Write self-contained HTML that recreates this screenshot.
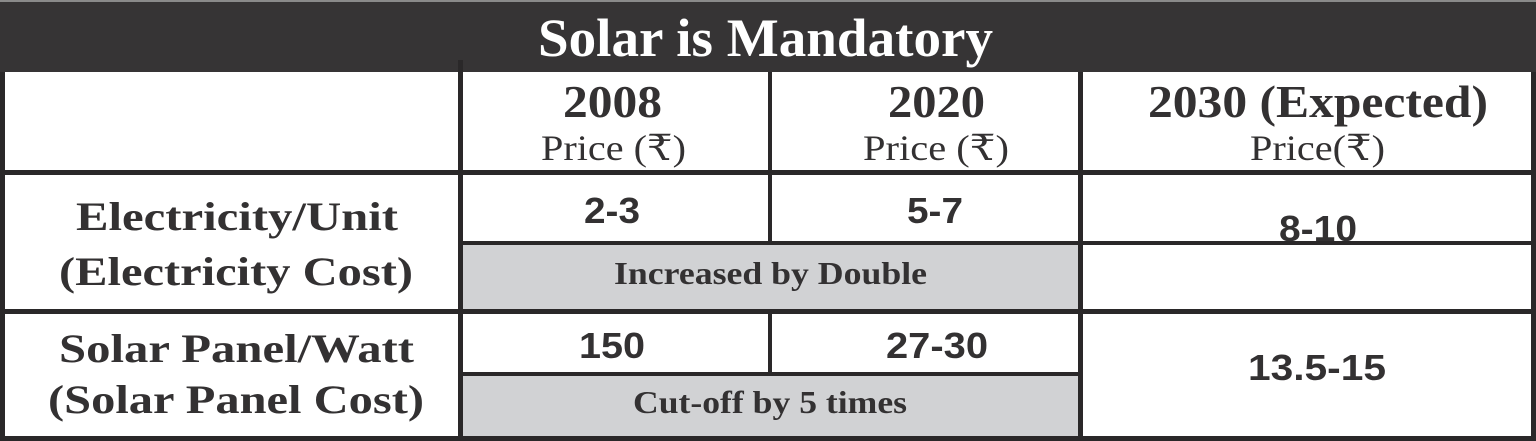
<!DOCTYPE html>
<html><head><meta charset="utf-8"><style>
html,body{margin:0;padding:0;background:#363435;}
svg{display:block}
.serif{font-family:"Liberation Serif","DejaVu Serif",serif;fill:#333132}
.sans{font-family:"Liberation Sans","DejaVu Sans",sans-serif;fill:#333132;font-weight:bold}
</style></head><body>
<svg width="1536" height="441" viewBox="0 0 1536 441">
<rect x="0" y="0" width="1536" height="441" fill="#363435"/>
<rect x="0" y="0" width="1536" height="2" fill="#8a8a8a"/>
<rect x="5" y="72" width="1526" height="364" fill="#ffffff"/>
<rect x="462" y="245" width="617" height="65" fill="#d1d2d4"/>
<rect x="462" y="376" width="617" height="60" fill="#d1d2d4"/>
<text class="serif" x="538" y="56" font-size="54" font-weight="bold" fill="#ffffff" style="fill:#fff" textLength="455" lengthAdjust="spacingAndGlyphs">Solar is Mandatory</text>
<text class="serif" x="563" y="117" font-size="46" font-weight="bold" textLength="99" lengthAdjust="spacingAndGlyphs">2008</text>
<text class="serif" x="541" y="160" font-size="36" textLength="145" lengthAdjust="spacingAndGlyphs">Price (₹)</text>
<text class="serif" x="888" y="117" font-size="46" font-weight="bold" textLength="97" lengthAdjust="spacingAndGlyphs">2020</text>
<text class="serif" x="863" y="160" font-size="36" textLength="146" lengthAdjust="spacingAndGlyphs">Price (₹)</text>
<text class="serif" x="1148" y="117" font-size="46" font-weight="bold" textLength="340" lengthAdjust="spacingAndGlyphs">2030 (Expected)</text>
<text class="serif" x="1250" y="160" font-size="36" textLength="135" lengthAdjust="spacingAndGlyphs">Price(₹)</text>
<text class="serif" x="76" y="230" font-size="40" font-weight="bold" textLength="322" lengthAdjust="spacingAndGlyphs">Electricity/Unit</text>
<text class="serif" x="59" y="285" font-size="40" font-weight="bold" textLength="354" lengthAdjust="spacingAndGlyphs">(Electricity Cost)</text>
<text class="serif" x="59" y="362" font-size="40" font-weight="bold" textLength="355" lengthAdjust="spacingAndGlyphs">Solar Panel/Watt</text>
<text class="serif" x="48" y="413" font-size="40" font-weight="bold" textLength="376" lengthAdjust="spacingAndGlyphs">(Solar Panel Cost)</text>
<text class="sans" x="584" y="223" font-size="36" textLength="56" lengthAdjust="spacingAndGlyphs">2-3</text>
<text class="sans" x="907" y="223" font-size="36" textLength="56" lengthAdjust="spacingAndGlyphs">5-7</text>
<text class="sans" x="1279" y="241" font-size="36" textLength="78" lengthAdjust="spacingAndGlyphs">8-10</text>
<text class="serif" x="614" y="284" font-size="32" font-weight="bold" textLength="313" lengthAdjust="spacingAndGlyphs">Increased by Double</text>
<text class="sans" x="579" y="358" font-size="36" textLength="66" lengthAdjust="spacingAndGlyphs">150</text>
<text class="sans" x="886" y="358" font-size="36" textLength="102" lengthAdjust="spacingAndGlyphs">27-30</text>
<text class="sans" x="1248" y="380" font-size="36" textLength="138" lengthAdjust="spacingAndGlyphs">13.5-15</text>
<text class="serif" x="633" y="413" font-size="32" font-weight="bold" textLength="274" lengthAdjust="spacingAndGlyphs">Cut-off by 5 times</text>
<g fill="#2a2829">
<rect x="458" y="60" width="5" height="378"/>
<rect x="768" y="72" width="4" height="171"/>
<rect x="768" y="311" width="4" height="63"/>
<rect x="1078" y="72" width="5" height="366"/>
<rect x="3" y="170" width="1530" height="5"/>
<rect x="460" y="241" width="1072" height="4"/>
<rect x="3" y="309" width="1530" height="5"/>
<rect x="460" y="372" width="620" height="4"/>
<rect x="0" y="436" width="1536" height="5"/>
<rect x="0" y="72" width="5" height="369"/>
<rect x="1531" y="72" width="5" height="369"/>
</g>
</svg>
</body></html>
